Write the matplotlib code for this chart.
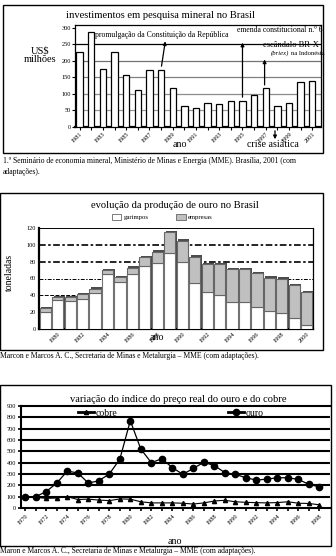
import matplotlib
matplotlib.use("Agg")
import matplotlib.pyplot as plt
from matplotlib.patches import Rectangle, Patch
from matplotlib.lines import Line2D

plt.rcParams['font.family'] = ['Liberation Serif', 'DejaVu Serif']

W, H = 336, 556

# investimentos em pesquisa mineral (US$ milhões)
invest_years = list(range(1981, 2002))
invest_values = [228, 288, 175, 228, 157, 113, 173, 173, 118, 63, 57,
                 73, 70, 80, 80, 97, 117, 65, 73, 137, 140]

# produção de ouro (toneladas)
ouro_years = list(range(1979, 2001))
garimpos = [20, 34, 33, 36, 43, 65, 56, 65, 75, 79, 90, 80,
            55, 44, 40, 32, 32, 26, 21, 19, 13, 5]
total_ouro = [25, 38, 38, 41, 48, 70, 62, 73, 85, 92, 115, 105,
              86, 77, 77, 71, 71, 66, 61, 60, 52, 44]
empresas = [t - g for t, g in zip(total_ouro, garimpos)]

# índice do preço real
preco_years = list(range(1970, 1999))
preco_ouro = [100, 100, 145, 220, 325, 310, 220, 240, 300, 430, 770, 520,
              400, 435, 356, 297, 350, 403, 374, 312, 297, 267, 246, 255,
              267, 267, 252, 208, 187]
preco_cobre = [100, 95, 85, 88, 100, 75, 78, 70, 65, 80, 78, 55,
               45, 45, 45, 42, 35, 45, 62, 68, 55, 50, 47, 45,
               48, 55, 42, 40, 28]


def box(l, t, r, b):
    return [l / W, 1 - b / H, (r - l) / W, (b - t) / H]


def fp(x, y):
    return (x, H - y)


def frame(l, t, r, b):
    fig.patches.append(Rectangle((l / W, 1 - b / H), (r - l) / W, (b - t) / H,
                                 transform=fig.transFigure, fill=False,
                                 edgecolor='black', linewidth=1.0))


def ftext(x, y, s, **kw):
    fig.text(x / W, 1 - y / H, s, **kw)


fig = plt.figure(figsize=(W / 100, H / 100), dpi=100)

# ---------- investimentos ----------
frame(3, 5, 323, 153)
ax1 = fig.add_axes(box(75, 25, 321, 127))
x1 = list(range(len(invest_years)))
ax1.bar(x1, invest_values, width=0.55, color='white', edgecolor='black',
        linewidth=0.9, zorder=3)
for y, c in [(50, '0.6'), (100, '0.55'), (150, '0.5'), (200, '0.45'), (250, 'black')]:
    ax1.axhline(y, color=c, linewidth=0.9, zorder=1)
ax1.set_xlim(-0.4, 20.75)
ax1.set_ylim(0, 309)
ax1.set_yticks([0, 50, 100, 150, 200, 250, 300])
ax1.set_xticks(x1)
ax1.set_xticklabels([str(y) if (y - 1981) % 2 == 0 else '' for y in invest_years],
                    rotation=45, ha='right', rotation_mode='anchor')
ax1.tick_params(axis='both', labelsize=4.5, length=2, width=0.8, pad=1)
for s in ax1.spines.values():
    s.set_linewidth(0.9)
ax1.spines['bottom'].set_linewidth(1.6)

arrow = dict(arrowstyle='-|>', color='black', lw=0.9, mutation_scale=5)
ax1.annotate('', xy=(7.4, 268), xytext=(7.0, 176), arrowprops=arrow)
ax1.text(1.3, 279, 'promulgação da Constituição da República', fontsize=5.6,
         va='center', ha='left')
ax1.annotate('', xy=(14.0, 264), xytext=(14.0, 82), arrowprops=arrow)
ax1.text(20.9, 294, 'emenda constitucional n.º 6', fontsize=5.6,
         va='center', ha='right', clip_on=False)
ax1.annotate('', xy=(15.9, 213), xytext=(15.9, 119), arrowprops=arrow)
ax1.text(18.2, 248, 'escândalo BR-X', fontsize=6, va='center', ha='center')
ax1.text(18.0, 224, '(briex)', fontsize=4.8, style='italic', va='center', ha='right')
ax1.text(18.15, 224, 'na Indonésia', fontsize=4.8, va='center', ha='left')

ftext(160, 15, 'investimentos em pesquisa mineral no Brasil', fontsize=7.6,
      ha='center', va='center')
ftext(40, 55, 'US$\nmilhões', fontsize=7.5, ha='center', va='center',
      linespacing=1.0)
ftext(180, 145, 'ano', fontsize=7.2, ha='center', va='center')
ftext(273, 145, 'crise asiática', fontsize=7.2, ha='center', va='center')
fig.add_artist(plt.Annotation('', xy=fp(275, 142), xytext=fp(275, 128),
                              xycoords='figure pixels', textcoords='figure pixels',
                              arrowprops=arrow))
ftext(3, 161, '1.º Seminário de economia mineral, Ministério de Minas e Energia '
      '(MME). Brasília, 2001 (com', fontsize=5.5, ha='left', va='center')
ftext(3, 172, 'adaptações).', fontsize=5.5, ha='left', va='center')

# ---------- produção de ouro ----------
frame(0, 193, 323, 350)
ax2 = fig.add_axes(box(39, 228, 313, 329))
x2 = list(range(len(ouro_years)))
# sombra para dar volume às barras
ax2.bar([x + 0.12 for x in x2], [t + 1.5 for t in total_ouro], width=0.9,
        color='0.3', edgecolor='none', zorder=2)
ax2.bar(x2, garimpos, width=0.9, color='white', edgecolor='0.45',
        linewidth=0.8, zorder=3)
ax2.bar(x2, empresas, bottom=garimpos, width=0.9, color='#c0c0c0',
        edgecolor='0.4', linewidth=0.8, zorder=3)
ax2.axhline(100, color='black', linewidth=1.2, linestyle=(0, (4, 1.5, 1.5, 1.5)), zorder=1)
ax2.axhline(80, color='black', linewidth=1.2, linestyle=(0, (4, 1.5, 1.5, 1.5)), zorder=1)
ax2.axhline(60, color='black', linewidth=0.7, linestyle=(0, (4, 1.5, 1.5, 1.5)), zorder=1)
ax2.axhline(40, color='black', linewidth=0.7, linestyle=(0, (4, 1.5)), zorder=1)
ax2.set_xlim(-0.5, 21.5)
ax2.set_ylim(0, 120)
ax2.set_yticks(range(0, 121, 20))
ax2.set_xticks(x2)
ax2.set_xticklabels([str(y) if (y - 1980) % 2 == 0 else '' for y in ouro_years],
                    rotation=45, ha='right', rotation_mode='anchor')
ax2.tick_params(axis='both', labelsize=4.5, length=0, pad=2)
ax2.spines['left'].set_linewidth(1.6)
ax2.spines['bottom'].set_linewidth(1.6)
ax2.spines['top'].set_linewidth(0.7)
ax2.spines['right'].set_linewidth(0.9)
ax2.legend([Patch(facecolor='white', edgecolor='0.4', linewidth=0.6),
            Patch(facecolor='#c0c0c0', edgecolor='0.4', linewidth=0.6)],
           ['garimpos', 'empresas'], ncol=2, frameon=False, fontsize=4.8,
           loc='center left', bbox_to_anchor=(112 / W, 1 - 217 / H),
           bbox_transform=fig.transFigure, handlelength=1.4,
           handleheight=0.9, handletextpad=0.3, columnspacing=4.2,
           borderpad=0, borderaxespad=0)

ftext(175, 206, 'evolução da produção de ouro no Brasil', fontsize=7.6,
      ha='center', va='center')
ftext(9, 272, 'toneladas', fontsize=7, rotation=90, ha='center', va='center')
ftext(157, 337, 'ano', fontsize=7.2, ha='center', va='center')
ftext(0, 356, 'Marcon e Marcos A. C., Secretaria de Minas e Metalurgia – MME '
      '(com adaptações).', fontsize=5.5, ha='left', va='center')

# ---------- índice do preço ----------
frame(0, 385, 331, 546)
ax3 = fig.add_axes(box(21, 406, 330, 508))
for y in range(100, 900, 100):
    ax3.axhline(y, color='black', linewidth=1.5, zorder=1)
ax3.plot(preco_years, preco_cobre, color='black', linewidth=0.8, marker='^',
         markersize=3, zorder=3)
ax3.plot(preco_years, preco_ouro, color='black', linewidth=0.9, marker='o',
         markersize=4.5, zorder=3)
ax3.set_xlim(1969.6, 1999.0)
ax3.set_ylim(0, 900)
ax3.set_yticks(range(0, 901, 100))
ax3.set_xticks(preco_years)
ax3.set_xticklabels([str(y) if y % 2 == 0 else '' for y in preco_years],
                    rotation=45, ha='right', rotation_mode='anchor')
ax3.tick_params(axis='both', labelsize=4.5, length=2.5, width=1.2, pad=1)
ax3.spines['right'].set_visible(False)
ax3.spines['left'].set_linewidth(1.5)
ax3.spines['bottom'].set_linewidth(1.5)
ax3.spines['top'].set_linewidth(1.5)

cobre_h = Line2D([], [], color='black', linewidth=2, marker='^', markersize=3)
ouro_h = Line2D([], [], color='black', linewidth=2, marker='o', markersize=4.5)
leg_c = ax3.legend([cobre_h], ['cobre'], frameon=False, fontsize=7,
                   loc='center left', bbox_to_anchor=(78 / W, 1 - 413 / H),
                   bbox_transform=fig.transFigure, handlelength=1.6,
                   handletextpad=0.2, borderpad=0, borderaxespad=0)
ax3.add_artist(leg_c)
ax3.legend([ouro_h], ['ouro'], frameon=False, fontsize=7,
           loc='center left', bbox_to_anchor=(228 / W, 1 - 413 / H),
           bbox_transform=fig.transFigure, handlelength=1.6,
           handletextpad=0.2, borderpad=0, borderaxespad=0)

ftext(178, 399, 'variação do índice do preço real do ouro e do cobre',
      fontsize=7.6, ha='center', va='center')
ftext(175, 541, 'ano', fontsize=7.2, ha='center', va='center')
ftext(0, 551, 'Maron e Marcos A. C., Secretaria de Minas e Metalurgia – MME '
      '(com adaptações).', fontsize=5.5, ha='left', va='center')

fig.savefig('out.png', dpi=100)
